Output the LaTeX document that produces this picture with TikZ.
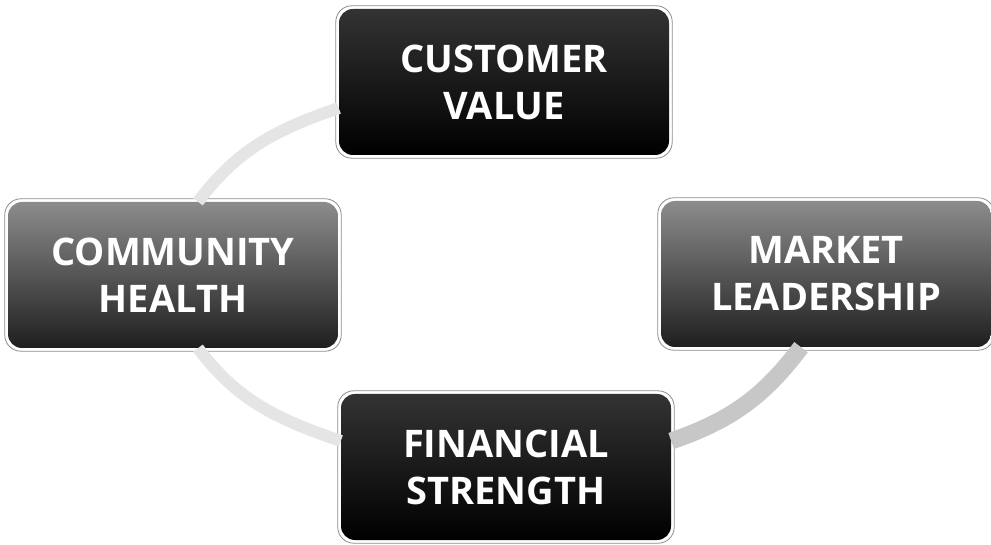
\documentclass[tikz,border=0pt]{standalone}
\usepackage{fontspec}
\setmainfont{Open Sans}
\usepackage{tikz}
\usetikzlibrary{shapes,arrows,positioning,calc}

\tikzset{
    box/.style={rounded corners=14pt, minimum width=330pt, minimum height=146pt,
        align=center, text=white, font=\fontsize{38}{47}\selectfont\bfseries},
    darkbox/.style={box, top color=black!80, bottom color=black},
    greybox/.style={box, top color=black!45, bottom color=black!88},
    rim/.style={draw=black!45, line width=0.8pt, rounded corners=16pt},
    link/.style={line width=12pt, black!10},
    boldlink/.style={line width=17pt, black!22}
}

\begin{document}
\begin{tikzpicture}[x=1pt, y=1pt]
    \useasboundingbox (0,0) rectangle (991,544);

    % Boxes
    \node[darkbox] (cv) at (504,462) {CUSTOMER\\VALUE};
    \node[greybox] (ch) at (173,269) {COMMUNITY\\HEALTH};
    \node[greybox] (ml) at (826,270) {MARKET\\LEADERSHIP};
    \node[darkbox] (fs) at (506,77) {FINANCIAL\\STRENGTH};

    % Thin outer rims
    \foreach \n in {cv,ch,ml,fs}
        \draw[rim] ([shift={(-3pt,-3pt)}]\n.south west) rectangle ([shift={(3pt,3pt)}]\n.north east);

    % Cycle arcs
    \draw[link] ([xshift=25pt]ch.north) to[out=53,in=199] ([yshift=-26pt]cv.west);
    \draw[link] ([xshift=25pt]ch.south) to[out=-53,in=161] ([yshift=26pt]fs.west);
    \draw[boldlink] ([yshift=26pt]fs.east) to[out=19,in=233] ([xshift=-25pt]ml.south);
\end{tikzpicture}
\end{document}
